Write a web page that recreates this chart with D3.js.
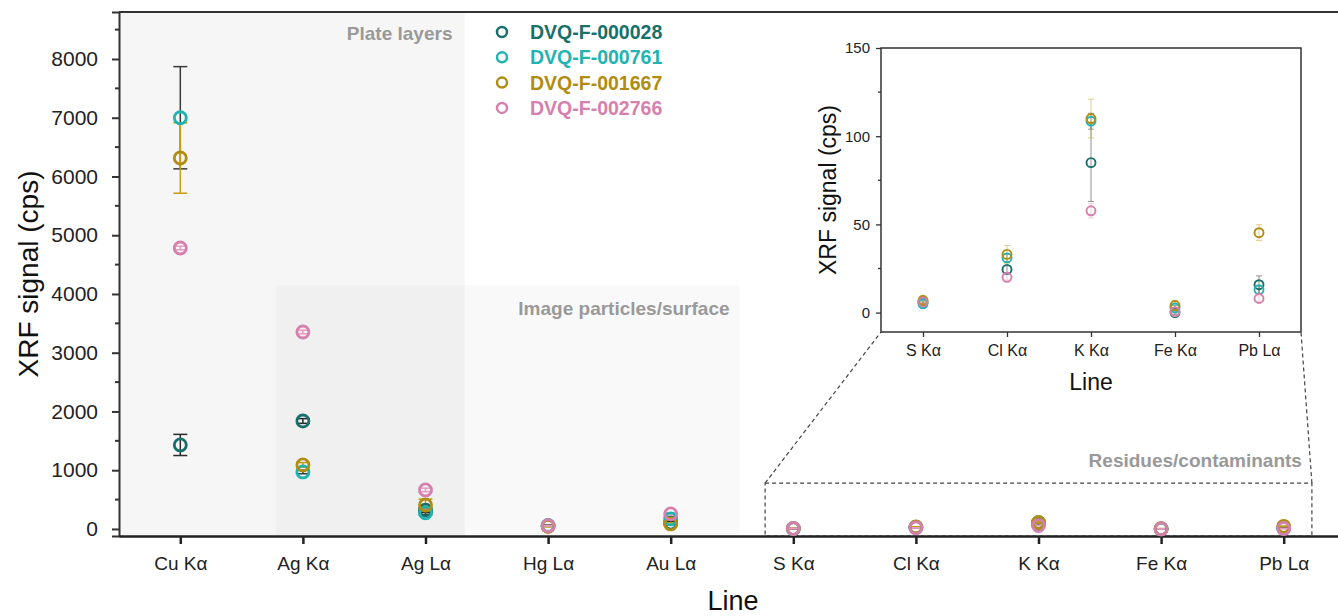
<!DOCTYPE html>
<html>
<head>
<meta charset="utf-8">
<script src="https://cdn.jsdelivr.net/npm/d3@7"></script>
<style>
  body { margin: 0; background: #fff; }
  svg { display: block; font-family: "Liberation Sans", Arial, sans-serif; }
</style>
</head>
<body>
<script>
/* data */
var lines = ["Cu Kα", "Ag Kα", "Ag Lα", "Hg Lα", "Au Lα", "S Kα", "Cl Kα", "K Kα", "Fe Kα", "Pb Lα"];
var residueLines = ["S Kα", "Cl Kα", "K Kα", "Fe Kα", "Pb Lα"];
var samples = ["DVQ-F-000028", "DVQ-F-000761", "DVQ-F-001667", "DVQ-F-002766"];
var colors = ["#17706b", "#1fb3b1", "#b08d12", "#d680ad"];
var errColors = ["#2b2b2b", "#3a3a3a", "#c29e10", "#e39cc2"];

var val000028 = [1430, 1838, 320, 50, 100, 6, 24.5, 85, 0, 15.8];
var err000028 = [180, 40, 40, 8, 30, 1, 2, 22, 1, 5];
var val000761 = [7000, 970, 275, 60, 170, 5, 31, 108.5, 2.6, 13];
var err000761 = [870, 30, 30, 8, 25, 1, 2, 4.5, 1.5, 2];
var val001667 = [6315, 1090, 408, 45, 85, 7, 33, 110, 4, 45.3];
var err001667 = [600, 40, 100, 8, 20, 1, 5, 11, 3, 4.5];
var val002766 = [4783, 3353, 664, 55, 255, 6, 20, 57.7, 0.5, 8];
var err002766 = [30, 30, 30, 5, 20, 1, 1.5, 4, 1, 1.5];

var mainTicks = [0, 1000, 2000, 3000, 4000, 5000, 6000, 7000, 8000];
var insetTicks = [0, 50, 100, 150];

var allVals = [val000028, val000761, val001667, val002766];
var allErrs = [err000028, err000761, err001667, err002766];

/* build point table */
var points = [];
samples.forEach(function(s, si){
    lines.forEach(function(l, li){
	points.push({sample: si, line: l, v: allVals[si][li], e: allErrs[si][li]});
    });
});

var width = 1338, height = 616;
var svg = d3.select("body").append("svg")
    .attr("width", width)
    .attr("height", height);

/* main scales */
var x = d3.scalePoint().domain(lines).range([119, 1345]).padding(0.5);
var y = d3.scaleLinear().domain([-120, 8800]).range([536, 12]);
var step = x.step();

/* shaded groups */
svg.append("rect")
    .attr("x", 119).attr("y", 12)
    .attr("width", x("Ag Lα") + 0.32 * step - 119)
    .attr("height", 536 - 12)
    .attr("fill", "#000").attr("opacity", 0.035);

svg.append("rect")
    .attr("x", x("Ag Kα") - 0.22 * step).attr("y", y(4150))
    .attr("width", x("Au Lα") + 0.56 * step - (x("Ag Kα") - 0.22 * step))
    .attr("height", 536 - y(4150))
    .attr("fill", "#000").attr("opacity", 0.025);

svg.append("text")
    .attr("x", x("Ag Lα") + 0.22 * step).attr("y", 40)
    .attr("text-anchor", "end").attr("font-size", 19).attr("font-weight", "bold")
    .attr("fill", "#999").text("Plate layers");

svg.append("text")
    .attr("x", x("Au Lα") + 0.48 * step).attr("y", 315)
    .attr("text-anchor", "end").attr("font-size", 19).attr("font-weight", "bold")
    .attr("fill", "#999").text("Image particles/surface");

/* residues box */
var rx0 = x("S Kα") - 0.23 * step, rx1 = x("Pb Lα") + 0.23 * step;
svg.append("rect")
    .attr("x", rx0).attr("y", y(780))
    .attr("width", rx1 - rx0).attr("height", 536 - y(780))
    .attr("fill", "none").attr("stroke", "#444").attr("stroke-width", 1.2)
    .attr("stroke-dasharray", "4,3");

svg.append("text")
    .attr("x", rx1 - 10).attr("y", 467)
    .attr("text-anchor", "end").attr("font-size", 19).attr("font-weight", "bold")
    .attr("fill", "#999").text("Residues/contaminants");

/* frame */
svg.append("line")
    .attr("x1", 119).attr("x2", 1345).attr("y1", 12).attr("y2", 12)
    .attr("stroke", "#333").attr("stroke-width", 2);

/* y axis */
var yAxis = svg.append("g")
    .attr("transform", "translate(119,0)")
    .call(d3.axisLeft(y).tickValues(mainTicks).tickFormat(d3.format("d")).tickSize(7).tickPadding(14));
yAxis.select(".domain").attr("stroke", "#333").attr("stroke-width", 2);
yAxis.selectAll(".tick line").attr("stroke", "#333").attr("stroke-width", 2);
yAxis.selectAll(".tick text").attr("font-size", 21).attr("fill", "#222")
    .attr("font-family", "Liberation Sans, Arial, sans-serif");
yAxis.selectAll(".minor").data(d3.range(500, 8600, 1000)).enter()
    .append("line").attr("class", "minor")
    .attr("x1", 0).attr("x2", -4)
    .attr("y1", function(d){ return y(d); }).attr("y2", function(d){ return y(d); })
    .attr("stroke", "#333").attr("stroke-width", 2);

/* x axis */
var xAxis = svg.append("g")
    .attr("transform", "translate(0,536)")
    .call(d3.axisBottom(x).tickSize(8).tickPadding(13).tickSizeOuter(0));
xAxis.select(".domain").attr("stroke", "#222").attr("stroke-width", 2.5);
xAxis.selectAll(".tick line").attr("stroke", "#222").attr("stroke-width", 2.5);
xAxis.selectAll(".tick text").attr("font-size", 19).attr("fill", "#222")
    .attr("font-family", "Liberation Sans, Arial, sans-serif");

svg.append("text")
    .attr("transform", "translate(38,274) rotate(-90)")
    .attr("text-anchor", "middle").attr("font-size", 28).attr("fill", "#111")
    .text("XRF signal (cps)");

svg.append("text")
    .attr("x", 733).attr("y", 610)
    .attr("text-anchor", "middle").attr("font-size", 27).attr("fill", "#111")
    .text("Line");

/* main error bars and markers */
var mainG = svg.append("g");
var eb = mainG.selectAll(".err").data(points).enter().append("g").attr("class", "err");
eb.append("line")
    .attr("x1", function(d){ return x(d.line); }).attr("x2", function(d){ return x(d.line); })
    .attr("y1", function(d){ return y(d.v - d.e); }).attr("y2", function(d){ return y(d.v + d.e); })
    .attr("stroke", function(d){ return errColors[d.sample]; }).attr("stroke-width", 1.5);
[-1, 1].forEach(function(sgn){
    eb.append("line")
	.attr("x1", function(d){ return x(d.line) - 7; }).attr("x2", function(d){ return x(d.line) + 7; })
	.attr("y1", function(d){ return y(d.v + sgn * d.e); }).attr("y2", function(d){ return y(d.v + sgn * d.e); })
	.attr("stroke", function(d){ return errColors[d.sample]; }).attr("stroke-width", 1.5);
});
mainG.selectAll(".pt").data(points).enter().append("circle")
    .attr("cx", function(d){ return x(d.line); })
    .attr("cy", function(d){ return y(d.v); })
    .attr("r", 6)
    .attr("fill", "none")
    .attr("stroke", function(d){ return colors[d.sample]; })
    .attr("stroke-width", 2.8);

/* legend */
var legend = svg.append("g");
samples.forEach(function(s, i){
    legend.append("circle")
	.attr("cx", 502).attr("cy", 32 + i * 25.3).attr("r", 5)
	.attr("fill", "none").attr("stroke", colors[i]).attr("stroke-width", 2.5);
    legend.append("text")
	.attr("x", 530).attr("y", 39 + i * 25.3)
	.attr("font-size", 19.5).attr("font-weight", "bold").attr("fill", colors[i])
	.text(s);
});

/* inset */
var ix = d3.scalePoint().domain(residueLines).range([881, 1301]).padding(0.5);
var iy = d3.scaleLinear().domain([-11, 150]).range([332, 48]);

/* zoom guide lines */
svg.append("line")
    .attr("x1", rx0).attr("y1", y(780)).attr("x2", 881).attr("y2", 332)
    .attr("stroke", "#444").attr("stroke-width", 1.2).attr("stroke-dasharray", "4,3");
svg.append("line")
    .attr("x1", rx1).attr("y1", y(780)).attr("x2", 1301).attr("y2", 332)
    .attr("stroke", "#444").attr("stroke-width", 1.2).attr("stroke-dasharray", "4,3");

svg.append("rect")
    .attr("x", 881).attr("y", 48).attr("width", 1301 - 881).attr("height", 332 - 48)
    .attr("fill", "#fff").attr("stroke", "#333").attr("stroke-width", 1.5);

var iyAxis = svg.append("g")
    .attr("transform", "translate(881,0)")
    .call(d3.axisLeft(iy).tickValues(insetTicks).tickSize(5).tickPadding(6).tickSizeOuter(0));
iyAxis.select(".domain").remove();
iyAxis.selectAll(".tick line").attr("stroke", "#333").attr("stroke-width", 1.3);
iyAxis.selectAll(".tick text").attr("font-size", 15).attr("fill", "#222")
    .attr("font-family", "Liberation Sans, Arial, sans-serif");
iyAxis.selectAll(".minor").data([25, 75, 125]).enter()
    .append("line").attr("class", "minor")
    .attr("x1", 0).attr("x2", -3)
    .attr("y1", function(d){ return iy(d); }).attr("y2", function(d){ return iy(d); })
    .attr("stroke", "#333").attr("stroke-width", 1.3);

var ixAxis = svg.append("g")
    .attr("transform", "translate(0,332)")
    .call(d3.axisBottom(ix).tickSize(5).tickPadding(8).tickSizeOuter(0));
ixAxis.select(".domain").remove();
ixAxis.selectAll(".tick line").attr("stroke", "#333").attr("stroke-width", 1.3);
ixAxis.selectAll(".tick text").attr("font-size", 16).attr("fill", "#222")
    .attr("font-family", "Liberation Sans, Arial, sans-serif");

svg.append("text")
    .attr("transform", "translate(836,190) rotate(-90)")
    .attr("text-anchor", "middle").attr("font-size", 23).attr("fill", "#111")
    .text("XRF signal (cps)");
svg.append("text")
    .attr("x", 1091).attr("y", 390)
    .attr("text-anchor", "middle").attr("font-size", 23).attr("fill", "#111")
    .text("Line");

var insetPts = points.filter(function(d){ return residueLines.indexOf(d.line) >= 0; });
var ieb = svg.append("g").selectAll(".ierr").data(insetPts).enter().append("g")
    .attr("opacity", 0.5);
ieb.append("line")
    .attr("x1", function(d){ return ix(d.line); }).attr("x2", function(d){ return ix(d.line); })
    .attr("y1", function(d){ return iy(d.v - d.e); }).attr("y2", function(d){ return iy(d.v + d.e); })
    .attr("stroke", function(d){ return errColors[d.sample]; }).attr("stroke-width", 1);
[-1, 1].forEach(function(sgn){
    ieb.append("line")
	.attr("x1", function(d){ return ix(d.line) - 3; }).attr("x2", function(d){ return ix(d.line) + 3; })
	.attr("y1", function(d){ return iy(d.v + sgn * d.e); }).attr("y2", function(d){ return iy(d.v + sgn * d.e); })
	.attr("stroke", function(d){ return errColors[d.sample]; }).attr("stroke-width", 1);
});
svg.append("g").selectAll(".ipt").data(insetPts).enter().append("circle")
    .attr("cx", function(d){ return ix(d.line); })
    .attr("cy", function(d){ return iy(d.v); })
    .attr("r", 4.5)
    .attr("fill", "none")
    .attr("stroke", function(d){ return colors[d.sample]; })
    .attr("stroke-width", 1.9);
</script>
</body>
</html>
